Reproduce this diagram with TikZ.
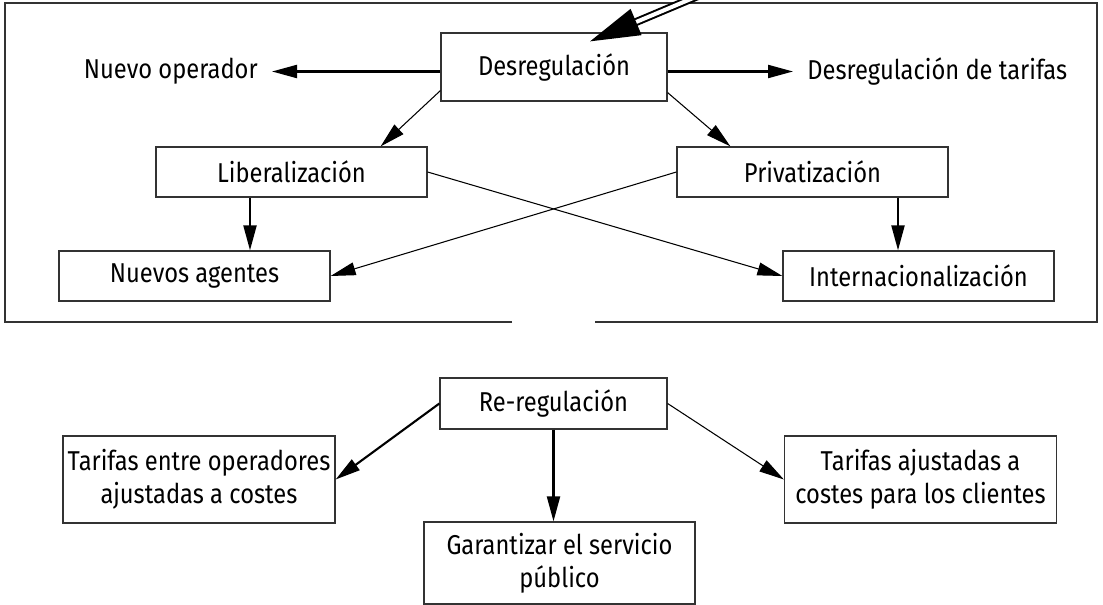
\documentclass[tikz,border=0pt]{standalone}
\usepackage{fontspec}
\setmainfont{Fira Sans}[FakeStretch=0.87]
\usepackage{tikz}
\usetikzlibrary{arrows.meta, positioning}

\begin{document}
\begin{tikzpicture}[
    font=\fontsize{15.5}{18.8}\selectfont,
    box/.style={rectangle, draw=black!80, line width=0.7pt, minimum width=5.42cm, minimum height=1cm, align=center, inner sep=0pt},
    lbl/.style={inner xsep=0.28cm, inner ysep=0pt},
    arrow/.style={-{Triangle[length=0.5cm, width=0.26cm]}, line width=0.6pt},
    thickarrow/.style={arrow, line width=1.2pt},
    bigarrow/.style={double, double distance=0.08cm, line width=0.04cm, -{Triangle[length=1cm, width=0.56cm]}}
]
    \useasboundingbox (0,0) rectangle (22.06,-12.1);
    % frame, open at the bottom
    \draw[line width=0.7pt, black!80] (10.24,-6.44) -- (0.1,-6.44) -- (0.1,-0.06) -- (21.94,-0.06) -- (21.94,-6.44) -- (11.9,-6.44);
    \node[box, minimum width=4.52cm, minimum height=1.36cm] (desreg) at (11.08,-1.34) {Desregulación};
    \node[lbl, anchor=east] (nuevo) at (5.44,-1.43) {Nuevo operador};
    \node[lbl, anchor=west] (tarifas) at (15.86,-1.43) {Desregulación de tarifas};
    \node[box] (lib) at (5.83,-3.44) {Liberalización};
    \node[box] (priv) at (16.25,-3.44) {Privatización};
    \node[box] (agentes) at (3.89,-5.52) {Nuevos agentes};
    \node[box] (intern) at (18.37,-5.52) {Internacionalización};
    % lower part
    \node[box, minimum width=4.54cm, minimum height=1.02cm] (rereg) at (11.07,-8.07) {Re-regulación};
    \node[box, minimum width=5.44cm, minimum height=1.74cm] (tarop) at (3.98,-9.59) {Tarifas entre operadores\\ajustadas a costes};
    \node[box, minimum width=5.44cm, minimum height=1.74cm] (tarcli) at (18.41,-9.59) {Tarifas ajustadas a\\costes para los clientes};
    \node[box, minimum height=1.64cm] (garant) at (11.19,-11.26) {Garantizar el servicio\\público};
    \coordinate (origin) at (14.72,0.4);
    \draw[bigarrow] (origin) -- ([shift={(0.72,-0.18)}]desreg.north);
    \draw[thickarrow] ([yshift=-0.09cm]desreg.west) -- (nuevo.east);
    \draw[thickarrow] ([yshift=-0.09cm]desreg.east) -- (tarifas.west);
    \draw[arrow] ([yshift=0.22cm]desreg.south west) -- ([xshift=-0.94cm]lib.north east);
    \draw[arrow] ([yshift=0.18cm]desreg.south east) -- ([xshift=1.08cm]priv.north west);
    \draw[thickarrow] ([xshift=-0.83cm]lib.south) -- ([xshift=-0.83cm]lib.south |- agentes.north);
    \draw[thickarrow] ([xshift=1.71cm]priv.south) -- ([xshift=1.71cm]priv.south |- intern.north);
    \draw[arrow] (lib.east) -- (intern.west);
    \draw[arrow] (priv.west) -- (agentes.east);
    \draw[thickarrow] (rereg.west) -- (tarop.east);
    \draw[arrow] (rereg.east) -- (tarcli.west);
    \draw[thickarrow] (rereg.south) -- (rereg.south |- garant.north);
\end{tikzpicture}
\end{document}
